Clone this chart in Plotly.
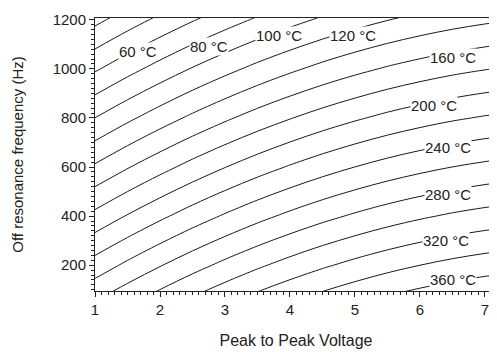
import plotly.graph_objects as go

# Peak-to-peak voltage grid (x) and off-resonance frequency grid (y)
voltage = [1.0, 1.5, 2.0, 2.5, 3.0, 3.5, 4.0, 4.5, 5.0, 5.5, 6.0, 6.5, 7.0, 7.5]
frequency = [0, 200, 400, 600, 800, 1000, 1200, 1400]

# Temperature (deg C) estimated at each grid node, rows follow `frequency`
temperature = [
    [271.3, 287.0, 301.6, 315.3, 327.9, 339.6, 350.2, 359.9, 368.5, 376.2, 382.8, 388.5, 393.1, 396.8],
    [228.5, 244.2, 258.8, 272.5, 285.1, 296.8, 307.4, 317.1, 325.7, 333.4, 340.0, 345.7, 350.3, 354.0],
    [185.7, 201.4, 216.0, 229.7, 242.3, 254.0, 264.6, 274.3, 282.9, 290.6, 297.2, 302.9, 307.5, 311.2],
    [142.9, 158.6, 173.2, 186.9, 199.5, 211.2, 221.8, 231.5, 240.1, 247.8, 254.4, 260.1, 264.7, 268.4],
    [100.1, 115.8, 130.4, 144.1, 156.7, 168.4, 179.0, 188.7, 197.3, 205.0, 211.6, 217.3, 221.9, 225.6],
    [57.3, 73.0, 87.6, 101.3, 113.9, 125.6, 136.2, 145.9, 154.5, 162.2, 168.8, 174.5, 179.1, 182.8],
    [14.5, 30.2, 44.8, 58.5, 71.1, 82.8, 93.4, 103.1, 111.7, 119.4, 126.0, 131.7, 136.3, 140.0],
    [-28.3, -12.6, 2.0, 15.7, 28.3, 40.0, 50.6, 60.3, 68.9, 76.6, 83.2, 88.9, 93.5, 97.2],
]

# Contour levels
level_start, level_end, level_step = 20, 360, 20

# Labelled isotherms and where their labels sit (voltage, frequency)
label_temps = [60, 80, 100, 120, 160, 200, 240, 280, 320, 360]
label_volts = [1.66, 2.75, 3.83, 4.97, 6.51, 6.22, 6.43, 6.43, 6.40, 6.51]
label_freqs = [1072, 1090, 1135, 1135, 1045, 850, 678, 490, 302, 143]

FONT = "Liberation Sans, Arial, Helvetica, sans-serif"

fig = go.Figure()
fig.add_trace(go.Contour(
    x=voltage, y=frequency, z=temperature,
    contours=dict(start=level_start, end=level_end, size=level_step,
                  coloring="lines", showlabels=False),
    colorscale=[[0, "#1a1a1a"], [1, "#1a1a1a"]],
    line=dict(width=1, smoothing=1.0),
    showscale=False, hoverinfo="skip",
))

for t, v, f in zip(label_temps, label_volts, label_freqs):
    fig.add_annotation(x=v, y=f, text=f"{t} °C", showarrow=False,
                       font=dict(family=FONT, size=15, color="#222"),
                       bgcolor="white", borderpad=0)

# The page body adds an 8px margin, so the figure is sized to fit inside it.
fig.update_layout(
    width=489, height=344,
    margin=dict(l=87, r=0, t=10, b=61),
    paper_bgcolor="white", plot_bgcolor="white",
    showlegend=False,
    font=dict(family=FONT, size=15, color="#222"),
)
fig.update_xaxes(
    range=[1, 7.185], tickmode="linear", tick0=1, dtick=1,
    ticks="outside", ticklen=5, tickwidth=1, tickcolor="#222",
    minor=dict(ticks="outside", dtick=0.1, tick0=1, ticklen=3, tickcolor="#222", showgrid=False),
    showline=True, linecolor="#222", linewidth=1, mirror=True,
    showgrid=False, zeroline=False,
    tickfont=dict(size=15),
    title=dict(text="Peak to Peak Voltage", font=dict(size=16), standoff=17),
)
fig.update_yaxes(
    range=[95, 1207], tickmode="linear", tick0=200, dtick=200,
    ticks="outside", ticklen=5, tickwidth=1, tickcolor="#222",
    minor=dict(ticks="outside", dtick=20, tick0=0, ticklen=3, tickcolor="#222", showgrid=False),
    showline=True, linecolor="#222", linewidth=1, mirror=False,
    showgrid=False, zeroline=False,
    tickfont=dict(size=15),
    title=dict(text="Off resonance frequency (Hz)", font=dict(size=15), standoff=25),
)

fig.write_html("out.html")
